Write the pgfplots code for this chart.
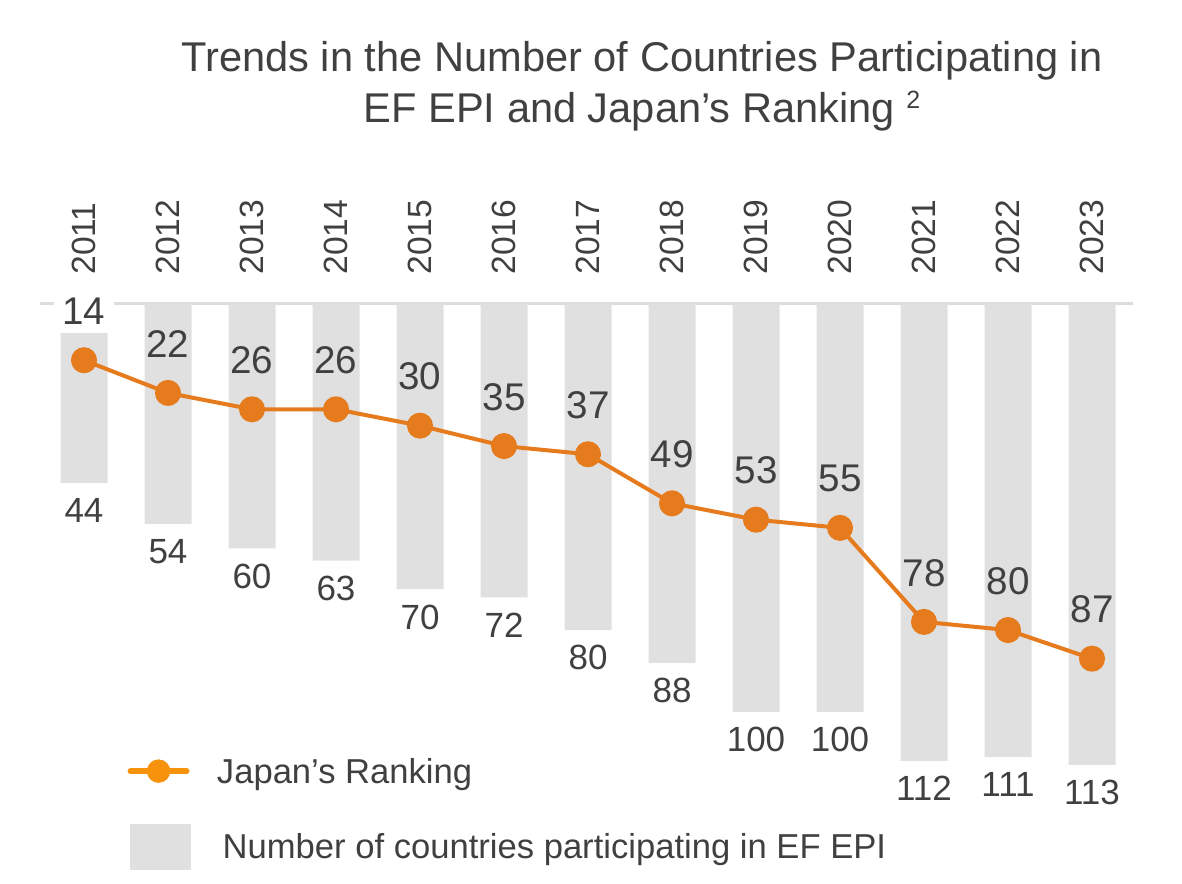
\documentclass[border=0pt]{standalone}
\usepackage{fontspec}
\setmainfont{Liberation Sans}
\usepackage{pgfplots}
\pgfplotsset{compat=1.18}
\definecolor{txt}{HTML}{404040}
\definecolor{barg}{HTML}{E0E0E0}
\definecolor{lineo}{HTML}{E67B1D}
\definecolor{lego}{HTML}{F7920C}
\definecolor{topl}{HTML}{DCDCDC}

\pgfplotstableread{
x y l
2011 -6.85 2011
2012 -6.85 2012
2013 -6.85 2013
2014 -6.85 2014
2015 -6.85 2015
2016 -6.85 2016
2017 -6.85 2017
2018 -6.85 2018
2019 -6.85 2019
2020 -6.85 2020
2021 -6.85 2021
2022 -6.85 2022
2023 -6.85 2023
}\years

\pgfplotstableread{
x y
2011 44
2012 54
2013 60
2014 63
2015 70
2016 72
2017 80
2018 88
2019 100
2020 100
2021 112
2022 111
2023 113
}\countries

\pgfplotstableread{
x y
2011 14
2012 22
2013 26
2014 26
2015 30
2016 35
2017 37
2018 49
2019 53
2020 55
2021 78
2022 80
2023 87
}\ranking

\pgfplotstableread{
x y
2012 22
2013 26
2014 26
2015 30
2016 35
2017 37
2018 49
2019 53
2020 55
2021 78
2022 80
2023 87
}\rankinglabels

\begin{document}
\begin{tikzpicture}
\useasboundingbox (0pt,0pt) rectangle (591pt,441.5pt);
\node[anchor=base, inner sep=0pt, text=txt, font=\fontsize{20.8pt}{25pt}\selectfont] at (321pt,405.5pt) {Trends in the Number of Countries Participating in};
\node[anchor=base, inner sep=0pt, text=txt, font=\fontsize{20.8pt}{25pt}\selectfont] at (321pt,380pt) {EF EPI and Japan’s Ranking \raisebox{7pt}{\fontsize{12.5pt}{13pt}\selectfont 2}};

\begin{axis}[
  at={(16.8pt,44.7pt)}, anchor=south west,
  scale only axis, width=554.4pt, height=245.3pt,
  xmin=2010.4, xmax=2023.6, ymin=0, ymax=120, y dir=reverse,
  hide axis, clip=false,
  /pgf/number format/assume math mode=true,
  legend cell align=left,
  legend style={draw=none, fill=none, inner sep=0pt, outer sep=0pt,
    at={(0.0844,0.0709)}, anchor=north west,
    font=\fontsize{17.3pt}{20pt}\selectfont, text=txt,
    cells={anchor=west},
    nodes={inner sep=0pt, text depth=},
    row sep=20.15pt, column sep=13pt},
]
\addlegendimage{legend image code/.code={
  \draw[lego, line width=3pt, line cap=round] (1.5pt,0pt) -- (29.5pt,0pt);
  \fill[lego] (15.5pt,0pt) circle (5.65pt);}}
\addlegendentry{\raisebox{0pt}[12.3pt][0pt]{Japan’s Ranking}}
\addlegendimage{legend image code/.code={
  \path (0pt,0pt);
  \fill[barg] (1.5pt,-11.25pt) rectangle (31.5pt,11.25pt);}}
\addlegendentry{\hspace{2.85pt}\raisebox{0pt}[12.3pt][0pt]{Number of countries participating in EF EPI}}

\addplot[draw=topl, line width=1.5pt, forget plot] coordinates {(2010.476,0) (2023.488,0)};

\addplot[ybar, bar width=23.5pt, fill=barg, draw=none, forget plot,
  nodes near coords,
  every node near coord/.append style={anchor=north, yshift=-7.5pt, inner sep=0pt,
    font=\fontsize{17.5pt}{20pt}\selectfont, text=txt}]
  table[x=x,y=y] {\countries};

\addplot[lineo, line width=2pt, mark=*, mark size=5.5pt,
  mark options={fill=lineo, draw=none}, forget plot]
  table[x=x,y=y] {\ranking};

\addplot[draw=none, mark=none, forget plot, nodes near coords,
  every node near coord/.append style={anchor=center, yshift=24.5pt, inner sep=0pt,
    fill=white, minimum width=30pt, minimum height=22pt,
    font=\fontsize{19.3pt}{22pt}\selectfont, text=txt}]
  coordinates {(2011,14)};

\addplot[draw=none, mark=none, forget plot, nodes near coords,
  every node near coord/.append style={anchor=center, yshift=24.5pt, inner sep=0pt,
    font=\fontsize{19.3pt}{22pt}\selectfont, text=txt}]
  table[x=x,y=y] {\rankinglabels};

\addplot[draw=none, mark=none, forget plot, nodes near coords,
  point meta=explicit symbolic,
  every node near coord/.append style={rotate=90, anchor=west, inner sep=0pt,
    font=\fontsize{16.8pt}{20pt}\selectfont, text=txt}]
  table[x=x,y=y,meta=l] {\years};
\end{axis}
\end{tikzpicture}
\end{document}
